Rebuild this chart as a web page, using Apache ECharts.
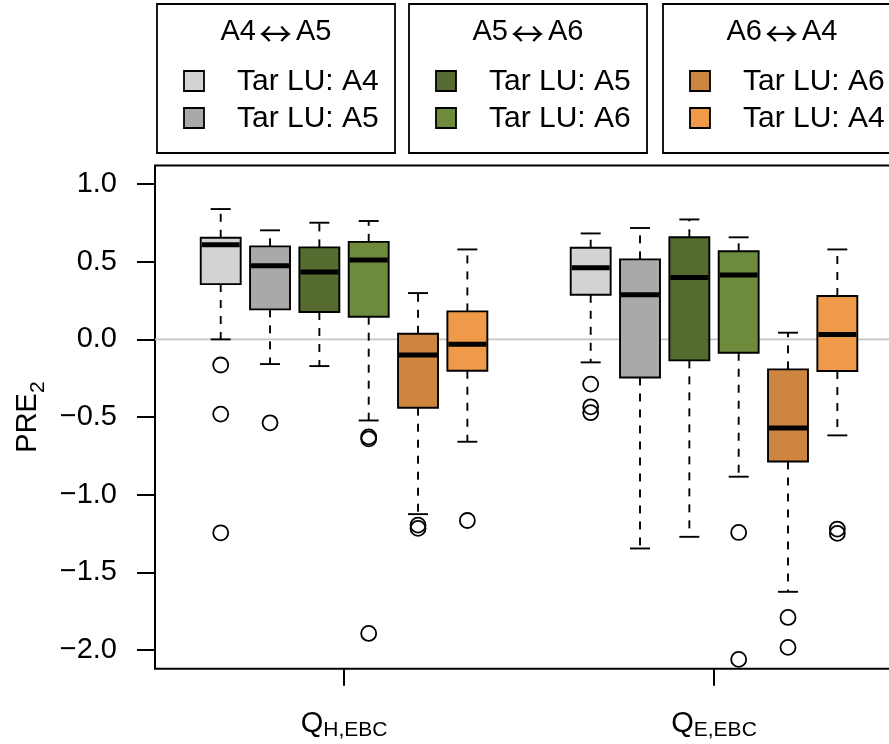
<!DOCTYPE html>
<html><head><meta charset="utf-8">
<script src="https://cdn.jsdelivr.net/npm/echarts@6/dist/echarts.min.js"></script>
<style>html,body{margin:0;padding:0;background:#fff}#c{width:889px;height:744px}</style>
</head><body><div id="c"></div>
<script>
// ---------------- data ----------------
const groupMain = ['Q', 'Q'];
const groupSub = ['H,EBC', 'E,EBC'];
const pairFrom = ['A4', 'A5', 'A6'];
const pairTo = ['A5', 'A6', 'A4'];
const seriesNames = ['Tar LU: A4', 'Tar LU: A5', 'Tar LU: A5', 'Tar LU: A6', 'Tar LU: A6', 'Tar LU: A4'];
const colors = ['#D3D3D3', '#A9A9A9', '#556B2F', '#6E8B3D', '#CD853F', '#EE9A49'];
const yTicks = [-2, -1.5, -1, -0.5, 0, 0.5, 1];

// each entry: [lower whisker, Q1, median, Q3, upper whisker], one per group (Q_H,EBC ; Q_E,EBC)
const boxA45_A4 = [[0.000, 0.356, 0.609, 0.654, 0.839], [-0.148, 0.287, 0.461, 0.590, 0.682]];
const boxA45_A5 = [[-0.159, 0.193, 0.474, 0.599, 0.702], [-1.346, -0.245, 0.287, 0.515, 0.717]];
const boxA56_A5 = [[-0.172, 0.176, 0.433, 0.592, 0.751], [-1.271, -0.135, 0.399, 0.657, 0.772]];
const boxA56_A6 = [[-0.522, 0.146, 0.511, 0.628, 0.762], [-0.884, -0.086, 0.414, 0.567, 0.657]];
const boxA64_A6 = [[-1.125, -0.440, -0.101, 0.036, 0.298], [-1.625, -0.786, -0.571, -0.193, 0.043]];
const boxA64_A4 = [[-0.659, -0.202, -0.032, 0.180, 0.579], [-0.618, -0.204, 0.032, 0.279, 0.579]];

// outliers per group
const outA45_A4 = [[-0.165, -0.481, -1.245], [-0.288, -0.434, -0.472]];
const outA45_A5 = [[-0.537], []];
const outA56_A5 = [[], []];
const outA56_A6 = [[-0.628, -0.640, -1.893], [-1.243, -2.060]];
const outA64_A6 = [[-1.196, -1.217], [-1.790, -1.983]];
const outA64_A4 = [[-1.166], [-1.221, -1.249]];

const boxes = [boxA45_A4, boxA45_A5, boxA56_A5, boxA56_A6, boxA64_A6, boxA64_A4];
const outs = [outA45_A4, outA45_A5, outA56_A5, outA56_A6, outA64_A6, outA64_A4];

// ---------------- layout ----------------
const FONT = 'Liberation Sans, Arial, Helvetica, sans-serif';
const X_MIN = -0.332, X_MAX = 14.833;
const GROUP_STEP = 7.5;
const BOX_W = 0.81;
const PX_PER_UNIT = 49.33;
const pos = (g, s) => g * GROUP_STEP + s + 1;
const groupCenters = groupMain.map((_, g) => (pos(g, 0) + pos(g, 5)) / 2);

function renderBox(params, api) {
  const x = api.value(0);
  const pLW = api.coord([x, api.value(1)]);
  const pQ1 = api.coord([x, api.value(2)]);
  const pMD = api.coord([x, api.value(3)]);
  const pQ3 = api.coord([x, api.value(4)]);
  const pUW = api.coord([x, api.value(5)]);
  const half = api.size([BOX_W, 0])[0] / 2;
  const cap = half / 2;
  const cx = pMD[0];
  const color = api.visual('color');
  const dash = { stroke: '#000', lineWidth: 1.9, lineDash: [8, 8], fill: null };
  const solid = { stroke: '#000', lineWidth: 1.9, fill: null };
  return {
    type: 'group',
    children: [
      { type: 'line', shape: { x1: cx, y1: pQ3[1], x2: cx, y2: pUW[1] }, style: dash },
      { type: 'line', shape: { x1: cx, y1: pQ1[1], x2: cx, y2: pLW[1] }, style: dash },
      { type: 'line', shape: { x1: cx - cap, y1: pUW[1], x2: cx + cap, y2: pUW[1] }, style: solid },
      { type: 'line', shape: { x1: cx - cap, y1: pLW[1], x2: cx + cap, y2: pLW[1] }, style: solid },
      { type: 'rect', shape: { x: cx - half, y: pQ3[1], width: 2 * half, height: pQ1[1] - pQ3[1] },
        style: { fill: color, stroke: '#000', lineWidth: 1.9 } },
      { type: 'line', shape: { x1: cx - half + 1, y1: pMD[1], x2: cx + half - 1, y2: pMD[1] },
        style: { stroke: '#000', lineWidth: 5 } }
    ]
  };
}

const series = [];
series.push({
  type: 'custom', z: 1, silent: true,
  data: [[X_MIN, 0]],
  renderItem: (p, api) => {
    const a = api.coord([X_MIN, 0]), b = api.coord([X_MAX, 0]);
    return { type: 'line', shape: { x1: a[0], y1: a[1], x2: b[0], y2: b[1] }, style: { stroke: '#C4C4C4', lineWidth: 1.6 } };
  }
});
boxes.forEach((arr, s) => {
  series.push({
    type: 'custom', name: seriesNames[s], z: 2, silent: true,
    itemStyle: { color: colors[s] },
    encode: { x: 0, y: [1, 2, 3, 4, 5] },
    data: arr.map((b, g) => [pos(g, s)].concat(b)),
    renderItem: renderBox
  });
});
outs.forEach((arr, s) => {
  const d = [];
  arr.forEach((vals, g) => vals.forEach(v => d.push([pos(g, s), v])));
  series.push({
    type: 'scatter', z: 3, silent: true,
    symbol: 'circle', symbolSize: 15,
    itemStyle: { color: 'rgba(0,0,0,0)', borderColor: '#000', borderWidth: 1.8, opacity: 1 },
    data: d
  });
});

// legend drawn as graphic boxes
const legendX = [157, 409, 663];
const legendEls = [];
pairFrom.forEach((f, k) => {
  const bx = legendX[k];
  legendEls.push({ type: 'rect', shape: { x: bx, y: 4, width: 238, height: 149 },
    style: { fill: '#fff', stroke: '#000', lineWidth: 1.8 }, z: 10 });
  legendEls.push({ type: 'text', x: bx + 119, y: 32, z: 11,
    style: {
      text: '{t|' + f + '}{ar|\u2194}{t|' + pairTo[k] + '}',
      align: 'center', verticalAlign: 'middle',
      rich: {
        t: { fontSize: 29, fontFamily: FONT, fill: '#000', lineHeight: 36 },
        ar: { fontSize: 33, fontFamily: 'Noto Sans CJK JP', fill: '#000', lineHeight: 36, padding: [2, 4, 0, 3] }
      }
    } });
  [0, 1].forEach(r => {
    const s = k * 2 + r;
    const cy = 81 + r * 37;
    legendEls.push({ type: 'rect', shape: { x: bx + 27, y: cy - 10, width: 20, height: 20 },
      style: { fill: colors[s], stroke: '#000', lineWidth: 1.8 }, z: 11 });
    legendEls.push({ type: 'text', x: bx + 80, y: cy + 1, z: 11,
      style: { text: seriesNames[s], fontSize: 30, fontFamily: FONT, fill: '#000', align: 'left', verticalAlign: 'middle' } });
  });
});

const option = {
  animation: false,
  backgroundColor: '#fff',
  textStyle: { fontFamily: FONT, color: '#000' },
  grid: { left: 155, top: 165.4, width: (X_MAX - X_MIN) * PX_PER_UNIT, height: 503.3,
    outerBoundsMode: 'none', containLabel: false,
    show: true, borderColor: '#000', borderWidth: 2, backgroundColor: 'transparent' },
  xAxis: {
    type: 'value', min: X_MIN, max: X_MAX,
    axisLine: { show: false, onZero: false }, splitLine: { show: false },
    axisTick: { show: true, length: 17, customValues: groupCenters, lineStyle: { color: '#000', width: 2 } },
    axisLabel: {
      customValues: groupCenters, margin: 38, color: '#000',
      formatter: v => { const g = groupCenters.indexOf(v); return g < 0 ? '' : '{q|' + groupMain[g] + '}{s|' + groupSub[g] + '}'; },
      rich: {
        q: { fontSize: 29, lineHeight: 34, fontFamily: FONT, color: '#000' },
        s: { fontSize: 21, lineHeight: 20, padding: [13, 0, 0, 0], fontFamily: FONT, color: '#000' }
      }
    }
  },
  yAxis: {
    type: 'value', min: -2.12, max: 1.12,
    axisLine: { show: false, onZero: false }, splitLine: { show: false },
    axisTick: { show: true, length: 18, customValues: yTicks, lineStyle: { color: '#000', width: 2 } },
    axisLabel: {
      customValues: yTicks, margin: 38, fontSize: 29, color: '#000', fontFamily: FONT,
      formatter: v => v.toFixed(1).replace('-', '\u2212')
    },
    name: '{a|PRE}{b|2}', nameLocation: 'middle', nameRotate: 90, nameGap: 107,
    nameTextStyle: {
      rich: {
        a: { fontSize: 29, lineHeight: 34, fontFamily: FONT, color: '#000' },
        b: { fontSize: 21, lineHeight: 20, padding: [20, 0, 0, 0], fontFamily: FONT, color: '#000' }
      }
    }
  },
  graphic: { elements: legendEls },
  series: series
};

const chart = echarts.init(document.getElementById('c'), null, { renderer: 'canvas' });
chart.setOption(option);
</script>
</body></html>
